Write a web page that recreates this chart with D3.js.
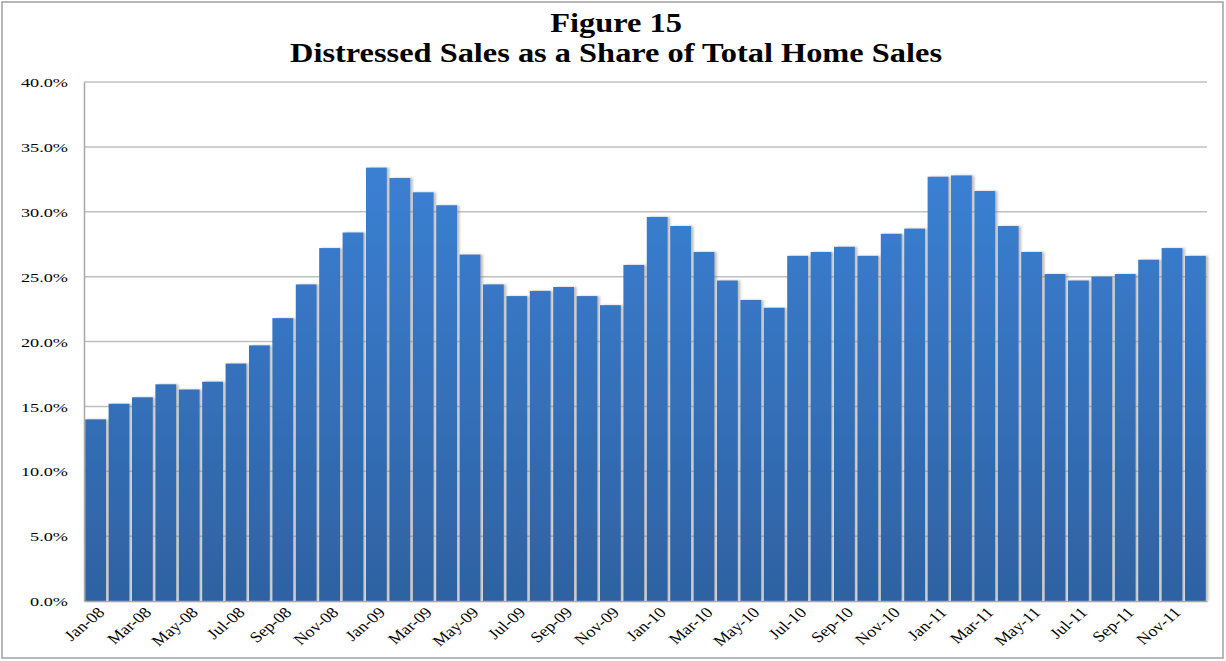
<!DOCTYPE html>
<html>
<head>
<meta charset="utf-8">
<script src="https://cdn.jsdelivr.net/npm/d3@7"></script>
<style>
  body { margin: 0; background: #fff; }
  svg { display: block; }
  .title { font-family: "Liberation Serif", "Times New Roman", serif; font-weight: bold; font-size: 27px; }
  .axis text { font-family: "Liberation Serif", "Times New Roman", serif; font-size: 13.5px; fill: #000; }
  .x.axis text { font-size: 15px; }
</style>
</head>
<body>
<svg id="chart"></svg>
<script>
// months along the x axis
var months = [
  "Jan-08","Feb-08","Mar-08","Apr-08","May-08","Jun-08","Jul-08","Aug-08","Sep-08","Oct-08","Nov-08","Dec-08",
  "Jan-09","Feb-09","Mar-09","Apr-09","May-09","Jun-09","Jul-09","Aug-09","Sep-09","Oct-09","Nov-09","Dec-09",
  "Jan-10","Feb-10","Mar-10","Apr-10","May-10","Jun-10","Jul-10","Aug-10","Sep-10","Oct-10","Nov-10","Dec-10",
  "Jan-11","Feb-11","Mar-11","Apr-11","May-11","Jun-11","Jul-11","Aug-11","Sep-11","Oct-11","Nov-11","Dec-11"
];
// distressed share of sales, percent
var shares = [
  14.0, 15.2, 15.7, 16.7, 16.3, 16.9, 18.3, 19.7, 21.8, 24.4, 27.2, 28.4,
  33.4, 32.6, 31.5, 30.5, 26.7, 24.4, 23.5, 23.9, 24.2, 23.5, 22.8, 25.9,
  29.6, 28.9, 26.9, 24.7, 23.2, 22.6, 26.6, 26.9, 27.3, 26.6, 28.3, 28.7,
  32.7, 32.8, 31.6, 28.9, 26.9, 25.2, 24.7, 25.0, 25.2, 26.3, 27.2, 26.6
];
var yTicks = [0, 5, 10, 15, 20, 25, 30, 35, 40];
var titleLines = ["Figure 15", "Distressed Sales as a Share of Total Home Sales"];

var W = 1226, H = 661;
var margin = {top: 82, right: 19, bottom: 60, left: 84};
var width = W - margin.left - margin.right;
var height = H - margin.top - margin.bottom;
var stretch = 1.35; // the source chart text is horizontally stretched

var svg = d3.select("#chart").attr("width", W).attr("height", H);

// gradient + soft shadow for the bars
var defs = svg.append("defs");
var grad = defs.append("linearGradient")
    .attr("id", "barGrad")
    .attr("gradientUnits", "userSpaceOnUse")
    .attr("x1", 0).attr("x2", 0)
    .attr("y1", margin.top).attr("y2", margin.top + height);
grad.append("stop").attr("offset", "0%").attr("stop-color", "#3b80d4");
grad.append("stop").attr("offset", "100%").attr("stop-color", "#2c5c98");
var shadow = defs.append("filter").attr("id", "shadow")
    .attr("x", "-20%").attr("y", "-5%").attr("width", "150%").attr("height", "110%");
shadow.append("feDropShadow")
    .attr("dx", 2.5).attr("dy", 0).attr("stdDeviation", 1.2)
    .attr("flood-color", "#888").attr("flood-opacity", 0.55);

// outer border
svg.append("rect")
    .attr("x", 2).attr("y", 2).attr("width", W - 5).attr("height", H - 5)
    .attr("fill", "none").attr("stroke", "#a0a0a0").attr("stroke-width", 1.5);

// title
svg.selectAll("text.title")
    .data(titleLines)
    .enter().append("text")
    .attr("class", "title")
    .attr("text-anchor", "middle")
    .attr("transform", function(d, i) { return "translate(616," + (32 + i * 30) + ") scale(1.2,1)"; })
    .text(function(d) { return d; });

var g = svg.append("g")
    .attr("transform", "translate(" + margin.left + "," + margin.top + ")");

var x = d3.scaleBand().domain(months).range([0, width]).paddingInner(0.11).paddingOuter(0.05);
var y = d3.scaleLinear().domain([0, 40]).range([height, 0]);

// horizontal gridlines
g.selectAll("line.grid")
    .data(yTicks.slice(1))
    .enter().append("line")
    .attr("class", "grid")
    .attr("x1", 0).attr("x2", width)
    .attr("y1", function(d) { return y(d); })
    .attr("y2", function(d) { return y(d); })
    .attr("stroke", "#c0c0c0").attr("stroke-width", 1.5);

// bars
g.selectAll("rect.bar")
    .data(shares)
    .enter().append("rect")
    .attr("class", "bar")
    .attr("x", function(d, i) { return x(months[i]); })
    .attr("y", function(d) { return y(d); })
    .attr("width", x.bandwidth())
    .attr("height", function(d) { return height - y(d); })
    .attr("fill", "url(#barGrad)")
    .attr("filter", "url(#shadow)");

// y axis
var yAxis = d3.axisLeft(y).tickValues(yTicks).tickSize(0)
    .tickFormat(function(d) { return d.toFixed(1) + "%"; });
var yG = g.append("g").attr("class", "y axis").call(yAxis);
yG.select(".domain").attr("stroke", "#a8a8a8").attr("stroke-width", 1.5);
yG.selectAll("text")
    .attr("x", 0)
    .attr("dy", "0.35em")
    .attr("transform", "translate(-16,0) scale(" + stretch + ",1)");

// x axis, every other month labelled
var xAxis = d3.axisBottom(x).tickSize(0)
    .tickFormat(function(d, i) { return i % 2 === 0 ? d : ""; });
var xG = g.append("g").attr("class", "x axis")
    .attr("transform", "translate(0," + height + ")")
    .call(xAxis);
xG.select(".domain").attr("stroke", "#a8a8a8").attr("stroke-width", 1.5);
xG.selectAll("text")
    .attr("text-anchor", "end")
    .attr("x", 0).attr("y", 0)
    .attr("dy", "0.7em")
    .attr("transform", "translate(1,5) scale(1.2,1) rotate(-45)");
</script>
</body>
</html>
